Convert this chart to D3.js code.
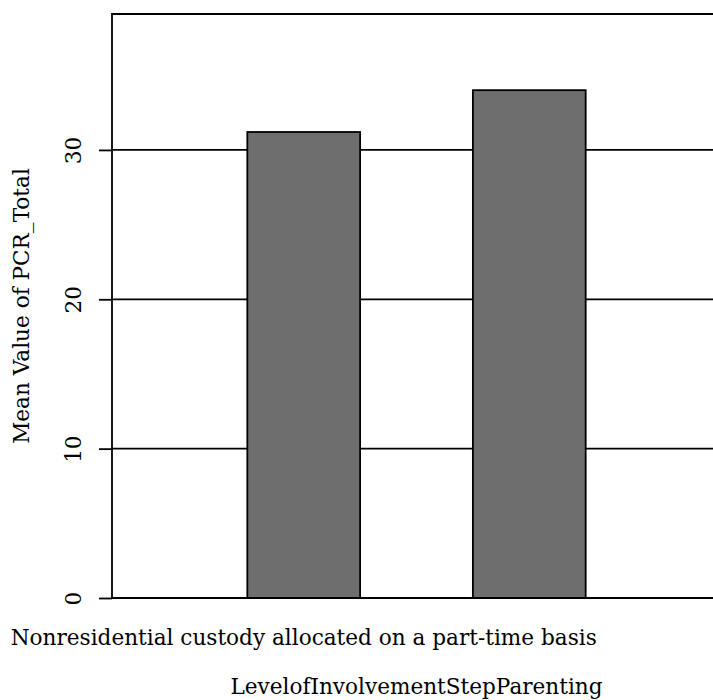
<!DOCTYPE html>
<html>
<head>
<meta charset="utf-8">
<script src="https://cdn.jsdelivr.net/npm/d3@7"></script>
<style>
  body { margin: 0; background: #fff; }
  svg { display: block; font-family: "DejaVu Serif", serif; }
</style>
</head>
<body>
<svg id="chart" width="713" height="700"></svg>
<script>
// categories of LevelofInvolvementStepParenting (second label is not shown in the picture)
var categories = ["Nonresidential custody allocated on a part-time basis", ""];
var meanValues = [31.2, 34.0];
var yTicks = [0, 10, 20, 30];

var svg = d3.select("#chart");

// plot area runs a bit past the right edge, like the original
var plotLeft = 112, plotRight = 721, plotTop = 14, plotBottom = 598;
var fontSize = "21.6px";
var lineW = 1.8;

var x = d3.scaleBand()
  .domain(categories)
  .range([plotLeft, plotRight])
  .paddingInner(0.5)
  .paddingOuter(0.6);

var y = d3.scaleLinear()
  .domain([0, 39.1])
  .range([plotBottom, plotTop]);

//gridlines
svg.append("g")
  .selectAll("line")
  .data(yTicks.filter(function(d) { return d > 0; }))
  .enter()
  .append("line")
  .attr("x1", plotLeft)
  .attr("x2", plotRight)
  .attr("y1", function(d) { return y(d); })
  .attr("y2", function(d) { return y(d); })
  .attr("stroke", "#000")
  .attr("stroke-width", lineW);

//bars
svg.append("g")
  .selectAll("rect")
  .data(meanValues)
  .enter()
  .append("rect")
  .attr("x", function(d, i) { return x(categories[i]); })
  .attr("y", function(d) { return y(d); })
  .attr("width", x.bandwidth())
  .attr("height", function(d) { return plotBottom - y(d); })
  .attr("fill", "#6e6e6e")
  .attr("stroke", "#000")
  .attr("stroke-width", lineW);

//frame: left, top, bottom
svg.append("path")
  .attr("d", "M" + plotRight + "," + plotTop + "H" + plotLeft + "V" + plotBottom + "H" + plotRight)
  .attr("fill", "none")
  .attr("stroke", "#000")
  .attr("stroke-width", lineW);

//y axis
var yAxis = svg.append("g")
  .attr("transform", "translate(" + plotLeft + ",0)")
  .call(d3.axisLeft(y).tickValues(yTicks).tickSize(13).tickSizeOuter(0));
yAxis.select(".domain").remove();
yAxis.selectAll(".tick line").attr("stroke", "#000").attr("stroke-width", lineW);
yAxis.selectAll(".tick text")
  .attr("x", null)
  .attr("dy", null)
  .attr("transform", "translate(-39,0) rotate(-90)")
  .attr("text-anchor", "middle")
  .attr("dominant-baseline", "central")
  .attr("fill", "#000")
  .style("font-family", "DejaVu Serif")
  .style("font-size", fontSize);

//category labels
svg.append("g")
  .selectAll("text")
  .data(categories)
  .enter()
  .append("text")
  .attr("x", function(d) { return x(d) + x.bandwidth() / 2; })
  .attr("y", 645)
  .attr("text-anchor", "middle")
  .style("font-size", fontSize)
  .text(function(d) { return d; });

//axis titles
svg.append("text")
  .attr("x", (plotLeft + plotRight) / 2)
  .attr("y", 694)
  .attr("text-anchor", "middle")
  .style("font-size", fontSize)
  .text("LevelofInvolvementStepParenting");

svg.append("text")
  .attr("transform", "translate(29," + (plotTop + plotBottom) / 2 + ") rotate(-90)")
  .attr("text-anchor", "middle")
  .style("font-size", fontSize)
  .text("Mean Value of PCR_Total");
</script>
</body>
</html>
